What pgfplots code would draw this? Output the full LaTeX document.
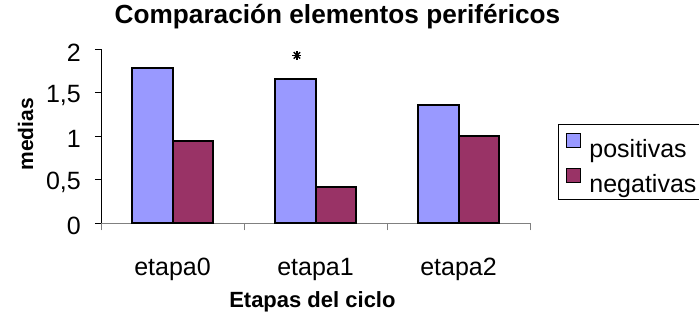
\documentclass[border=0pt]{standalone}
\usepackage{pgfplots}
\pgfplotsset{compat=1.18}
\usepackage{fontspec}
\setmainfont{Liberation Sans}
\definecolor{posc}{RGB}{153,153,255}
\definecolor{negc}{RGB}{153,51,102}
\begin{document}
\begin{tikzpicture}[x=1pt,y=1pt]
\begin{axis}[
  at={(101pt,90.7pt)}, anchor=south west,
  width=429pt, height=174pt, scale only axis,
  xmin=-0.5, xmax=2.5, ymin=0, ymax=2,
  axis x line=bottom, axis y line=left,
  axis line style={-, line width=1pt},
  x axis line style={draw=gray},
  xtick={0,1,2}, xticklabels={etapa0,etapa1,etapa2},
  major x tick style={draw=none},
  minor xtick={-0.5,0.5,1.5,2.5},
  minor x tick style={draw=gray, line width=1pt},
  minor tick length=7pt,
  ytick={0,0.5,1,1.5,2},
  y tick style={draw=black, line width=1pt},
  major tick length=6pt,
  tick align=outside,
  /pgf/number format/assume math mode=true,
  /pgf/number format/use comma,
  tick label style={font=\fontsize{25}{30}\selectfont},
  xticklabel style={anchor=base, inner sep=0pt, yshift=-46pt},
  yticklabel style={anchor=east, inner sep=0pt, xshift=-14pt, yshift=-3pt},
  ylabel={medias},
  xlabel={Etapas del ciclo},
  title={Comparación elementos periféricos},
  ylabel style={font=\bfseries\fontsize{21}{25}\selectfont, at={(axis description cs:-0.1585,0.512)}, anchor=base, inner sep=0pt},
  xlabel style={font=\bfseries\fontsize{22}{26}\selectfont, at={(axis description cs:0.4928,-0.4839)}, anchor=base, inner sep=0pt},
  title style={font=\bfseries\fontsize{26.2}{30}\selectfont, at={(axis description cs:0.5513,1.1138)}, anchor=base, inner sep=0pt},
  legend style={at={(axis description cs:1.0646,0.569)}, anchor=north west,
    draw=black, line width=0.8pt, inner xsep=8pt, inner ysep=2pt,
    row sep=-1pt, column sep=8pt,
    nodes={inner xsep=0pt, inner ysep=1pt, text height=29.7pt, text depth=4.3pt,
      font=\fontsize{25}{30}\selectfont}},
  legend cell align=left,
  legend image code/.code={\draw[#1, line width=1.3pt] (0pt,-3pt) rectangle (14pt,11pt);},
]
\addplot[ybar, bar width=0.28, bar shift=-0.14, fill=posc, draw=black, line width=2pt]
  coordinates {(0,1.78) (1,1.655) (2,1.36)};
\addplot[ybar, bar width=0.28, bar shift=0.14, fill=negc, draw=black, line width=2pt]
  coordinates {(0,0.95) (1,0.42) (2,1.00)};
\addplot[only marks, mark=+, mark size=4.5pt, line width=1.4pt, forget plot]
  coordinates {(0.87,1.93)};
\addplot[only marks, mark=x, mark size=4.5pt, line width=1.4pt, forget plot]
  coordinates {(0.87,1.93)};
\legend{positivas,negativas}
\end{axis}
\pgfresetboundingbox
\useasboundingbox (0,0) rectangle (699,314);
\end{tikzpicture}
\end{document}
